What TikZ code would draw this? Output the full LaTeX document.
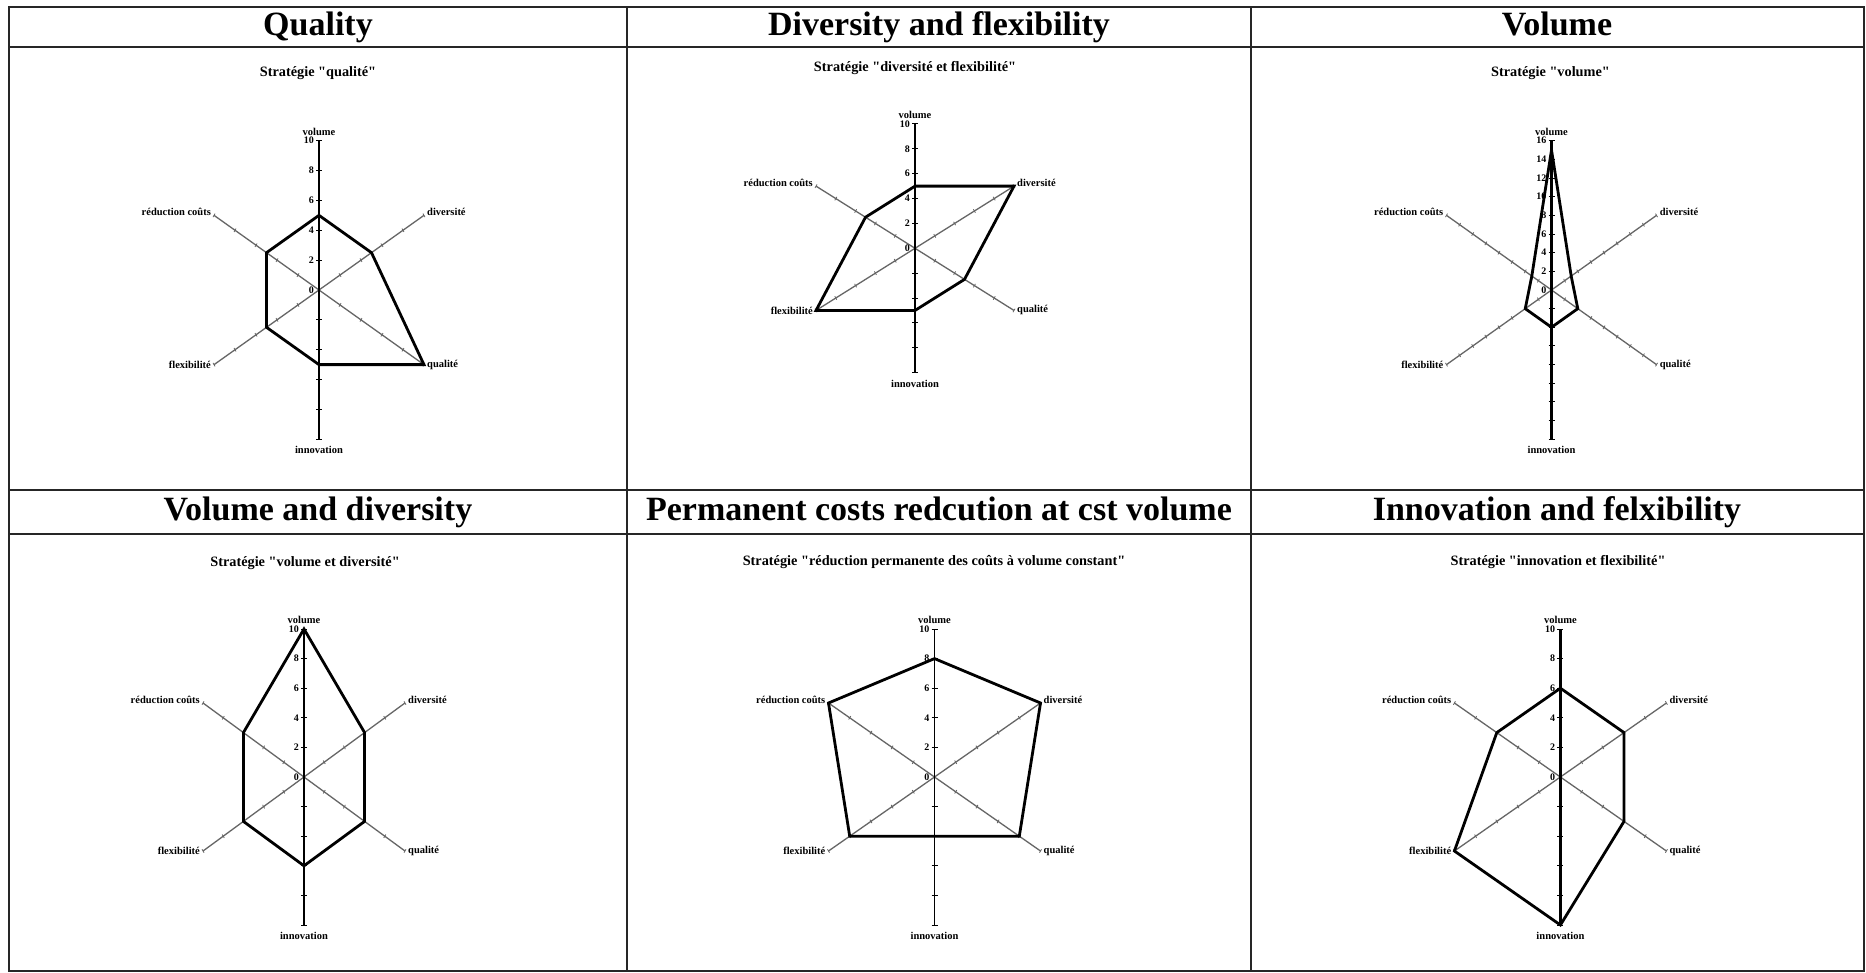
\documentclass[tikz,border=0pt]{standalone}
\usepackage{fontspec}
\setmainfont{Liberation Serif}[Ligatures=TeXOff]
\usetikzlibrary{positioning}

\tikzset{
  header/.style={font=\fontsize{34}{40}\selectfont\bfseries, anchor=base, inner sep=0pt},
  charttitle/.style={font=\fontsize{14.3}{16}\selectfont\bfseries, inner sep=0pt},
  axislabel/.style={font=\fontsize{10.5}{12}\selectfont\bfseries, inner sep=1pt},
  ticklabel/.style={font=\fontsize{10}{11}\selectfont\bfseries, inner sep=0pt, anchor=east},
  grid line/.style={line width=2pt, black!85},
  diag axis/.style={line width=1.3pt, black!60},
  vert axis/.style={line width=2.4pt, black},
  thin axis/.style={line width=1.4pt, black},
  profile/.style={line width=2.8pt, black, line join=miter},
}

% #1 max, #2 axis style, #3-#8 volume, diversite, qualite, innovation, flexibilite, reduction couts, #9 prefix
\newcommand{\radarplot}[9]{%
  \foreach \ang in {30,-30,-150,150} {
    \draw[diag axis] (0,0) -- (\ang:#1);
    \foreach \tk in {2,4,...,#1}
      \draw[diag axis, line width=0.8pt] (\ang:\tk) ++(\ang+90:2pt) -- ++(\ang-90:4pt);
  }
  \draw[#2] (0,-#1) -- (0,#1);
  \foreach \tk in {2,4,...,#1} {
    \draw[#2, line width=1pt] (0,\tk) ++(-3pt,0) -- ++(6pt,0);
    \draw[#2, line width=1pt] (0,-\tk) ++(-3pt,0) -- ++(6pt,0);
  }
  \foreach \tk in {0,2,...,#1}
    \node[ticklabel] (#9T\tk) at ([xshift=-5pt]0,\tk) {\tk};
  \node[axislabel, above=4pt] (#9VOL) at (90:#1) {volume};
  \node[axislabel, anchor=west, xshift=2pt, yshift=3pt] (#9DIV) at (30:#1) {diversité};
  \node[axislabel, anchor=west, xshift=2pt] (#9QUA) at (-30:#1) {qualité};
  \node[axislabel, below=6pt] (#9INN) at (-90:#1) {innovation};
  \node[axislabel, anchor=east, xshift=-2pt] (#9FLE) at (-150:#1) {flexibilité};
  \node[axislabel, anchor=east, xshift=-2pt, yshift=3pt] (#9RED) at (150:#1) {réduction coûts};
  \draw[profile] (90:#3) -- (30:#4) -- (-30:#5) -- (-90:#6) -- (-150:#7) -- (150:#8) -- cycle;
}

\begin{document}
\begin{tikzpicture}[x=1pt, y=-1pt]
  \fill[white] (0,0) rectangle (1866,973);
  \useasboundingbox (0,0) rectangle (1866,973);

  % table
  \draw[grid line] (9,7.5) rectangle (1864,971);
  \draw[grid line] (627,7.5) -- (627,971);
  \draw[grid line] (1251,7.5) -- (1251,971);
  \draw[grid line] (9,47) -- (1864,47);
  \draw[grid line] (9,490) -- (1864,490);
  \draw[grid line] (9,534) -- (1864,534);

  % headers
  \node[header] (H1) at (318,36) {Quality};
  \node[header] (H2) at (939,36) {Diversity and flexibility};
  \node[header] (H3) at (1557,36) {Volume};
  \node[header] (H4) at (318,520) {Volume and diversity};
  \node[header] (H5) at (939,520) {Permanent costs redcution at cst volume};
  \node[header] (H6) at (1557,520) {Innovation and felxibility};

  % chart titles
  \node[charttitle] (S1) at (318,72.7) {Stratégie "qualité"};
  \node[charttitle] (S2) at (915,68.3) {Stratégie "diversité et flexibilité"};
  \node[charttitle] (S3) at (1550.5,72.7) {Stratégie "volume"};
  \node[charttitle] (S4) at (305,563) {Stratégie "volume et diversité"};
  \node[charttitle] (S5) at (934,562) {Stratégie "réduction permanente des coûts à volume constant"};
  \node[charttitle] (S6) at (1558,562) {Stratégie "innovation et flexibilité"};

  \begin{scope}[shift={(319,290)}, x={(12.12pt,0pt)}, y={(0pt,14.93pt)}]
    \radarplot{10}{vert axis}{5}{5}{10}{5}{5}{5}{QA}
  \end{scope}
  \begin{scope}[shift={(915,248.3)}, x={(11.43pt,0pt)}, y={(0pt,12.43pt)}]
    \radarplot{10}{vert axis}{5}{10}{5}{5}{10}{5}{DF}
  \end{scope}
  \begin{scope}[shift={(1551.5,290)}, x={(7.58pt,0pt)}, y={(0pt,9.33pt)}]
    \radarplot{16}{vert axis}{15}{3}{4}{4}{4}{3}{VO}
  \end{scope}
  \begin{scope}[shift={(304,777)}, x={(11.66pt,0pt)}, y={(0pt,14.8pt)}]
    \radarplot{10}{thin axis}{10}{6}{6}{6}{6}{6}{VD}
  \end{scope}
  \begin{scope}[shift={(934.5,777)}, x={(12.24pt,0pt)}, y={(0pt,14.8pt)}]
    \radarplot{10}{thin axis}{8}{10}{8}{4}{8}{10}{PC}
  \end{scope}
  \begin{scope}[shift={(1560.4,777)}, x={(12.24pt,0pt)}, y={(0pt,14.8pt)}]
    \radarplot{10}{vert axis}{6}{6}{6}{10}{10}{6}{IF}
  \end{scope}
\end{tikzpicture}
\end{document}
